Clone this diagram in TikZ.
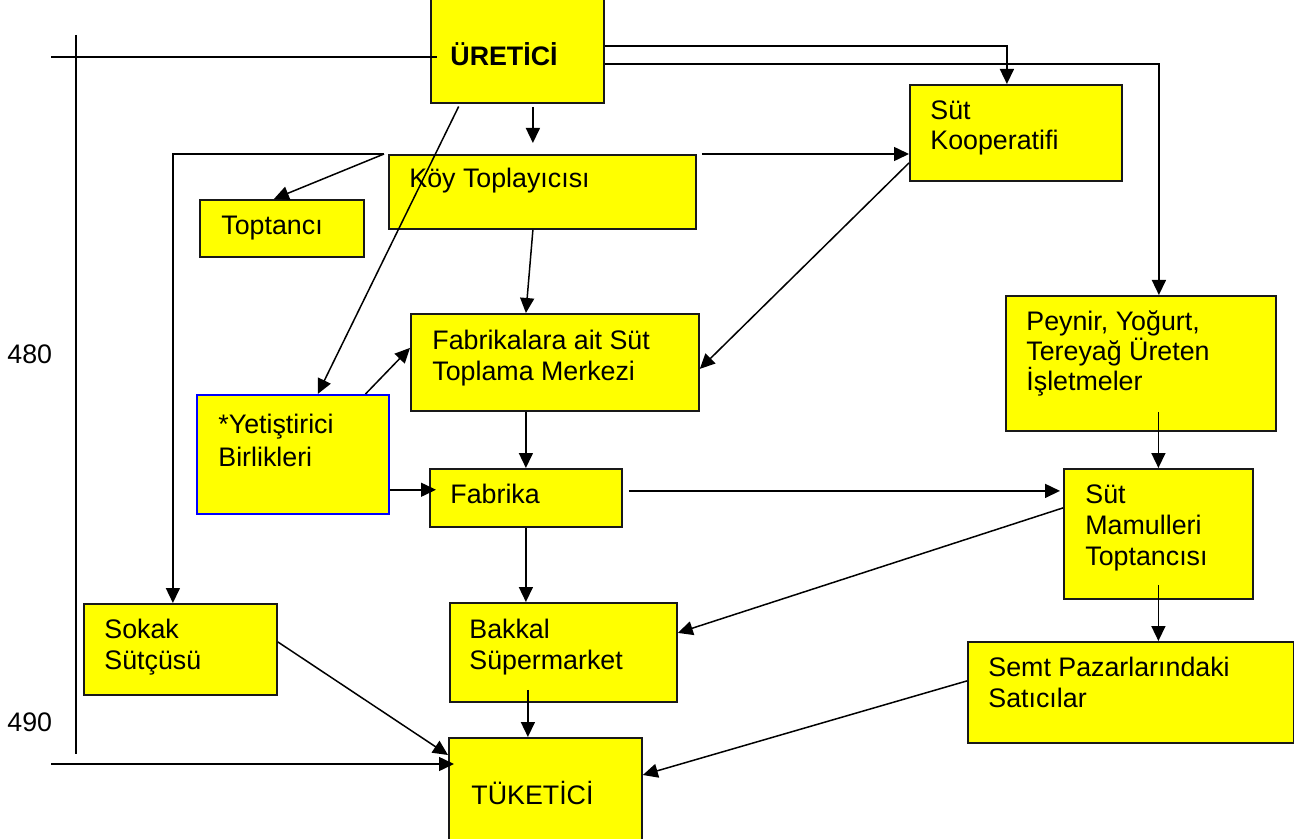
\documentclass[tikz,border=0pt]{standalone}
\usepackage{fontspec}
\setmainfont{Liberation Sans}
\usetikzlibrary{arrows.meta}
\definecolor{boxyellow}{RGB}{255,255,0}

\begin{document}
\begin{tikzpicture}[x=0.5pt,y=-0.5pt,
  box/.style={draw=black!90, fill=boxyellow, line width=0.9pt, inner sep=0pt, anchor=north west},
  txt/.style={font=\fontsize{13.4}{15.2}\selectfont, align=left, inner sep=0pt, anchor=base west},
  arr/.style={line width=0.75pt, -{Triangle[length=7.5pt,width=7pt]}},
  ln/.style={line width=0.75pt}]
\path[use as bounding box] (0,0) rectangle (1294,839);
\clip (0,0) rectangle (1294,839);

\node [box, minimum width=86.5pt, minimum height=53pt] (uretici) at (430,-4) {};
\node [box, minimum width=153.5pt, minimum height=37pt] (koy) at (388,154) {};
\node [box, minimum width=82pt, minimum height=28.5pt] (toptanci) at (199,199) {};
\node [box, minimum width=106pt, minimum height=48pt] (koop) at (909,84) {};
\node [box, minimum width=135pt, minimum height=67.5pt] (peynir) at (1005,295) {};
\node [box, minimum width=144pt, minimum height=48.5pt] (merkez) at (410,313) {};
\node [box, draw=blue, line width=0.75pt, minimum width=96pt, minimum height=59.5pt] (birlik) at (196,394) {};
\node [box, minimum width=96pt, minimum height=29pt] (fabrika) at (429,468) {};
\node [box, minimum width=94.5pt, minimum height=65pt] (mamul) at (1063,468) {};
\node [box, minimum width=96.5pt, minimum height=45.5pt] (sokak) at (83,603) {};
\node [box, minimum width=113.5pt, minimum height=49.5pt] (bakkal) at (449,602) {};
\node [box, minimum width=163pt, minimum height=50.5pt] (semt) at (967,641) {};
\node [box, minimum width=96.5pt, minimum height=55pt] (tuketici) at (448,737) {};

% multi-line labels sit on the baseline of their last line
\node [txt, font=\fontsize{13.4}{15.2}\selectfont\bfseries] (uretici-t) at (450,66) {ÜRETİCİ};
\node [txt] (koy-t) at (409,188) {Köy Toplayıcısı};
\node [txt] (toptanci-t) at (221,235) {Toptancı};
\node [txt] (koop-t) at (930,150) {Süt\\Kooperatifi};
\node [txt, font=\fontsize{13.4}{14.8}\selectfont] (peynir-t) at (1026,390) {Peynir, Yoğurt,\\Tereyağ Üreten\\İşletmeler};
\node [txt] (merkez-t) at (432,380) {Fabrikalara ait Süt\\Toplama Merkezi};
\node [txt, font=\fontsize{13.4}{16.4}\selectfont] (birlik-t) at (218,466) {*Yetiştirici\\Birlikleri};
\node [txt] (fabrika-t) at (450,503) {Fabrika};
\node [txt, font=\fontsize{13.4}{15.5}\selectfont] (mamul-t) at (1085,565) {Süt\\Mamulleri\\Toptancısı};
\node [txt] (sokak-t) at (104,669) {Sokak\\Sütçüsü};
\node [txt] (bakkal-t) at (469,669) {Bakkal\\Süpermarket};
\node [txt] (semt-t) at (988,707) {Semt Pazarlarındaki\\Satıcılar};
\node [txt] (tuketici-t) at (471,804) {TÜKETİCİ};
\node [txt] (y480) at (7,364) {480};
\node [txt] (y490) at (7,731) {490};

\coordinate (vtop) at (76,35);
\coordinate (vbot) at (76,754);
\coordinate (htop) at (51,57);
\coordinate (hbot) at (51,764);
\draw [ln] (vtop) -- (vbot);
\draw [ln] (htop) -- ([xshift=3.5pt]htop -| uretici.west);
\draw [arr, shorten >=-3pt] (hbot) -- (hbot -| tuketici.west);

\draw [arr] ([yshift=2pt]uretici.east) -| ([xshift=-4.5pt]koop.north);
\draw [arr] ([yshift=-7pt]uretici.east) -| ([xshift=9pt]peynir.north);
\draw [arr, shorten <=1.5pt, shorten >=5.5pt] ([xshift=7.75pt]uretici.south) -- ([xshift=7.75pt]uretici.south |- koy.north);
\draw [arr, shorten <=1.5pt] ([xshift=15pt]uretici.south west) -- ([xshift=12.5pt]birlik.north);
\draw [arr] ([xshift=-2pt]koy.north west) -| ([xshift=-3.75pt]sokak.north);
\draw [arr] ([xshift=-2pt]koy.north west) -- ([xshift=-4pt]toptanci.north);
\draw [arr] ([xshift=2.5pt]koy.north east) -- (koop.west |- koy.north east);
\draw [arr] ([xshift=-4.75pt]koy.south) -- ([xshift=-14.5pt]merkez.north);
\draw [arr] ([yshift=-15pt]koop.west) -- ([yshift=-3.25pt]merkez.east);
\draw [arr] ([xshift=-12pt]birlik.north east) -- ([yshift=7.25pt]merkez.west);
\draw [arr, shorten >=-3.5pt] ([yshift=-17.75pt]birlik.east) -- ([yshift=-17.75pt]birlik.east -| fabrika.west);
\draw [arr] ([xshift=-14.5pt]merkez.south) -- ([xshift=-14.5pt]merkez.south |- fabrika.north);
\draw [arr, shorten >=1.5pt] ([xshift=3pt,yshift=3.5pt]fabrika.east) -- ([yshift=3.5pt]fabrika.east -| mamul.west);
\draw [arr] ([yshift=10pt]peynir.south -| mamul.north) -- (mamul.north);
\draw [arr] ([yshift=7.5pt]mamul.south) -- (mamul.south |- semt.north);
\draw [arr] ([yshift=13pt]mamul.west) -- ([yshift=9.75pt]bakkal.east);
\draw [arr] (fabrika.south) -- (fabrika.south |- bakkal.north);
\draw [arr] ([xshift=-17.75pt,yshift=6.5pt]bakkal.south) -- ([xshift=-17.75pt]bakkal.south |- tuketici.north);
\draw [arr] ([yshift=3.75pt]sokak.east) -- ([yshift=-9pt]tuketici.north west);
\draw [arr] ([yshift=5.75pt]semt.west) -- ([yshift=-19pt]tuketici.north east);
\end{tikzpicture}
\end{document}
